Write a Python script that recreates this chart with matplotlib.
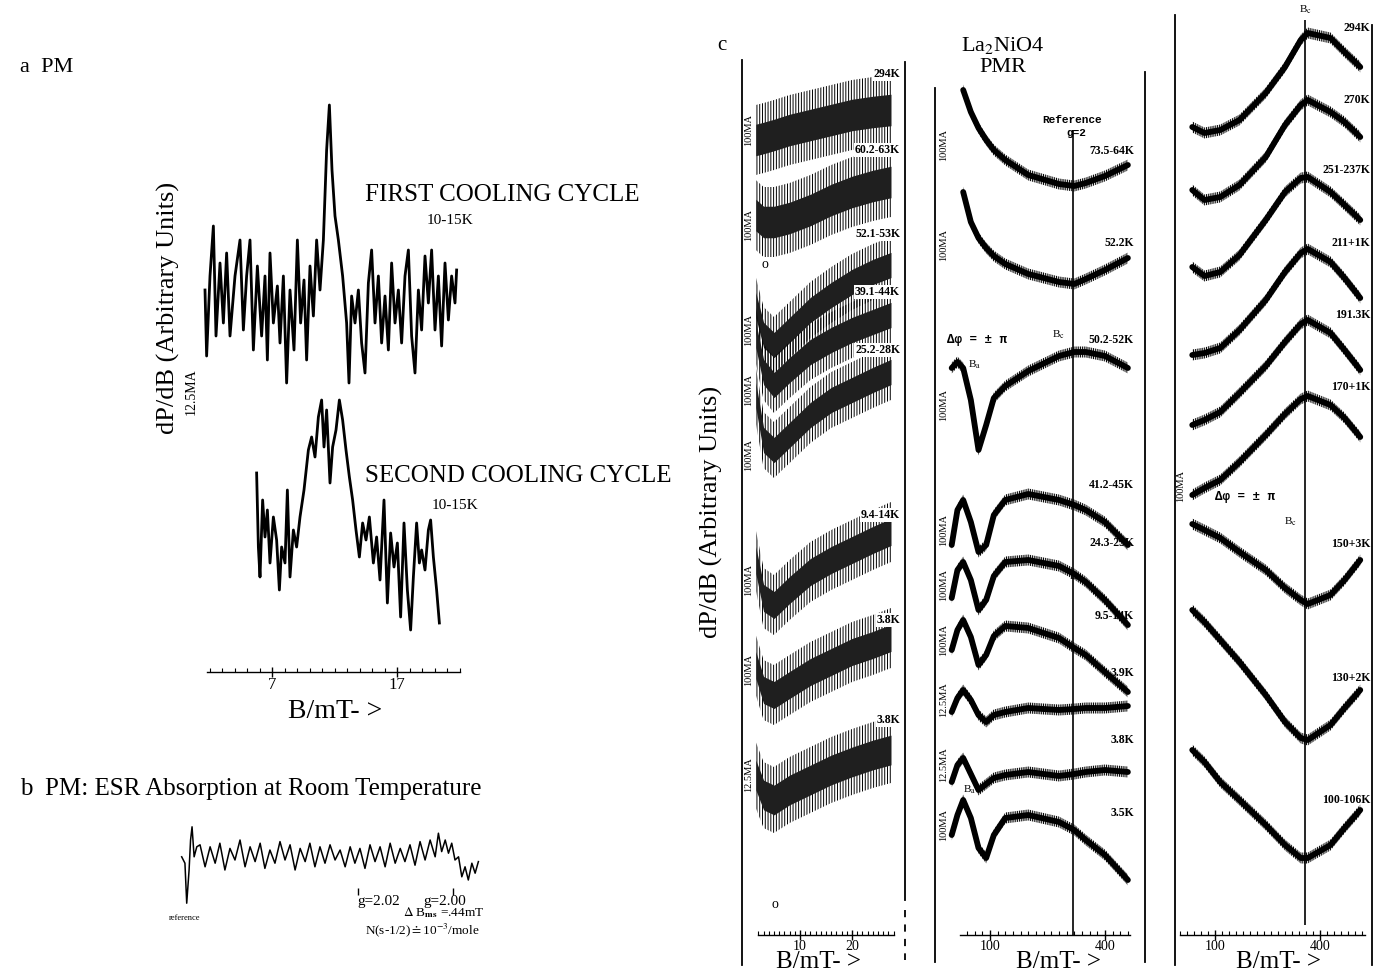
import matplotlib
matplotlib.use("Agg")
import matplotlib.pyplot as plt
import numpy as np
from matplotlib.lines import Line2D

plt.rcParams['font.family'] = ['Liberation Serif', 'DejaVu Serif']
plt.rcParams['mathtext.fontset'] = 'stix'
plt.rcParams['hatch.linewidth'] = 0.7
plt.rcParams['hatch.color'] = 'black'

W, H = 1378, 975

# ---------------- data ----------------
# panel a: B in mT, dP/dB in arbitrary units
a1_B = [1.64, 1.77, 2.04, 2.31, 2.52, 2.84, 3.11, 3.37, 3.64, 4.04,
        4.44, 4.71, 4.97, 5.24, 5.51, 5.83, 6.17, 6.44, 6.63, 6.84,
        7.11, 7.43, 7.64, 7.91, 8.17, 8.44, 8.76, 9.03, 9.29, 9.56,
        9.77, 10.04, 10.31, 10.57, 10.84, 11.11, 11.37, 11.59, 11.80, 12.04,
        12.31, 12.65, 12.97, 13.16, 13.37, 13.64, 13.91, 14.17, 14.44, 14.71,
        14.97, 15.24, 15.51, 15.77, 16.04, 16.31, 16.57, 16.84, 17.11, 17.37,
        17.64, 17.91, 18.17, 18.44, 18.71, 18.97, 19.24, 19.51, 19.77, 20.04,
        20.31, 20.57, 20.84, 21.11, 21.37, 21.64, 21.77]
a1_sig = [1.3, -5.3, 2.7, 7.7, -3.3, 4.0, -2.0, 5.0, -3.3, 2.7,
          6.3, -2.7, 2.7, 6.3, -4.7, 3.7, -3.3, 2.7, -5.7, 5.0,
          -2.0, 1.7, -4.0, 2.7, -8.0, 1.3, -4.7, 6.3, -2.0, 2.3,
          -5.7, 3.7, -1.3, 6.3, 1.3, 6.3, 15.3, 19.8, 13.3, 8.7,
          6.3, 2.7, -2.0, -8.0, 0.7, -2.0, 1.3, -4.0, -7.0, 2.0,
          5.3, -2.0, 2.7, -4.0, 0.7, -4.7, 4.0, -2.0, 1.3, -4.0,
          2.7, 5.3, -3.3, -7.0, 1.3, -2.7, 4.7, 0.0, 5.3, -2.7,
          2.7, -4.3, 4.0, -1.7, 2.7, 0.0, 3.3]
a2_B = [5.77, 5.91, 6.04, 6.25, 6.44, 6.63, 6.84, 7.11, 7.37, 7.59,
        7.77, 8.04, 8.23, 8.44, 8.71, 8.97, 9.24, 9.56, 9.91, 10.17,
        10.44, 10.71, 10.97, 11.16, 11.37, 11.64, 11.85, 12.12, 12.39, 12.65,
        12.92, 13.19, 13.45, 13.72, 13.99, 14.25, 14.52, 14.79, 15.11, 15.37,
        15.64, 15.96, 16.23, 16.49, 16.76, 17.03, 17.29, 17.56, 17.83, 18.09,
        18.31, 18.57, 18.79, 18.97, 19.24, 19.51, 19.69, 19.91, 20.17, 20.39]
a2_sig = [5.7, -1.7, -4.7, 3.0, -0.7, 2.0, -3.3, 1.3, -1.0, -6.0,
          -1.7, -3.3, 4.0, -4.7, 0.0, -1.7, 1.3, 4.0, 8.0, 9.3,
          7.3, 11.3, 13.0, 8.3, 12.0, 4.7, 8.3, 10.0, 13.0, 11.0,
          8.0, 5.3, 3.0, 0.0, -2.7, 0.7, -1.0, 1.3, -3.3, -0.7,
          -5.0, 3.0, -7.3, -0.3, -3.7, -1.3, -8.7, 0.7, -6.0, -10.0,
          -4.7, 0.7, -3.3, -2.0, -4.0, 0.0, 1.0, -2.7, -6.0, -9.3]
a_offsets = [0.0, -22.7]
a_titles = ['FIRST COOLING CYCLE', 'SECOND COOLING CYCLE']
a_temps = ['10-15K', '10-15K']

# panel b: field sweep (0 = reference line, 100 = end of sweep), absorption
b_field = [-0.1, 1.0, 1.6, 2.4, 2.9, 3.4, 4.1, 5.0, 6.1, 7.8,
           9.5, 11.2, 12.8, 14.5, 16.2, 17.9, 19.6, 21.3, 23.0, 24.7,
           26.4, 28.0, 29.7, 31.4, 33.1, 34.8, 36.5, 38.2, 39.9, 41.6,
           43.2, 44.9, 46.6, 48.3, 50.0, 51.7, 53.4, 55.1, 56.8, 58.4,
           60.1, 61.8, 63.5, 65.2, 66.9, 68.6, 70.3, 72.0, 73.7, 75.3,
           77.0, 78.7, 80.4, 82.1, 83.8, 85.5, 86.6, 87.7, 88.9, 90.0,
           91.1, 92.2, 93.4, 94.5, 95.6, 96.7, 97.9, 99.0, 100.1]
b_sig = [0.8, -0.8, -10.8, -2.5, 5.0, 8.3, 0.8, 3.3, 3.8, -1.7,
         3.3, -0.8, 4.2, -2.5, 2.9, 0.0, 5.0, -1.7, 3.3, -0.4,
         4.2, -2.1, 2.5, -0.8, 4.6, 0.0, 3.8, -2.5, 2.9, -0.4,
         4.2, -1.7, 3.3, -0.8, 3.8, 0.0, 2.5, -1.7, 3.3, -0.8,
         2.9, -2.1, 3.8, -0.4, 3.3, -1.7, 4.2, -0.8, 2.9, -0.4,
         3.8, -1.3, 4.6, 0.0, 5.0, 0.8, 6.7, 2.1, 5.0, 1.7,
         4.2, 0.0, 0.8, -4.2, -1.7, -5.0, -0.8, -3.3, -0.4]
b_g_marks = [59.5, 91.6]
b_g_labels = ['g=2.02', 'g=2.00']

# panel c, column 1 (0-28 mT): stacked traces, level of trace centre (arb. units)
c1_B = [1.5, 3, 5, 8, 12, 16, 20, 24, 27.5]
c1_traces = [
    [860, 862, 865, 870, 875, 880, 885, 888, 890],
    [785, 778, 778, 782, 790, 800, 808, 814, 818],
    [695, 665, 655, 670, 690, 705, 718, 728, 735],
    [665, 628, 615, 630, 648, 660, 670, 678, 685],
    [605, 560, 550, 565, 585, 600, 610, 620, 628],
    [440, 402, 395, 410, 428, 440, 450, 460, 468],
    [335, 310, 305, 315, 328, 338, 348, 355, 362],
    [225, 205, 200, 210, 220, 230, 238, 245, 250],
]
c1_noise = [35, 35, 28, 28, 28, 30, 30, 33]
c1_temps = ['294K', '60.2-63K', '52.1-53K', '39.1-44K', '25.2-28K', '9.4-14K', '3.8K', '3.8K']
c1_gain = ['100MA'] * 7 + ['12.5MA']

# column 2 (La2NiO4, 0-460 mT)
c2_B = [0, 15, 30, 50, 70, 90, 110, 140, 200, 280, 320, 350, 400, 460]
nan = np.nan
c2_traces = [
    [nan, nan, 910, 888, 872, 860, 850, 840, 825, 816, 814, 817, 824, 835],
    [nan, nan, 808, 778, 762, 752, 744, 736, 726, 718, 716, 721, 730, 742],
    [632, 638, 632, 600, 550, 575, 602, 614, 629, 644, 648, 648, 644, 632],
    [455, 490, 500, 478, 448, 455, 485, 500, 506, 500, 495, 490, 478, 455],
    [402, 430, 438, 420, 390, 400, 424, 438, 440, 434, 426, 418, 400, 375],
    [350, 370, 380, 363, 335, 345, 364, 374, 372, 362, 352, 345, 328, 308],
    [288, 302, 310, 300, 285, 278, 285, 288, 292, 290, 291, 292, 292, 294],
    [218, 235, 242, 226, 210, 216, 222, 225, 228, 224, 226, 228, 230, 228],
    [165, 185, 200, 182, 152, 142, 165, 182, 185, 178, 170, 160, 145, 120],
]
c2_temps = ['73.5-64K', '52.2K', '50.2-52K', '41.2-45K', '24.3-25K', '9.5-14K', '3.9K', '3.8K', '3.5K']
c2_gain = ['100MA'] * 6 + ['12.5MA', '12.5MA', '100MA']
c2_reference = 317

# column 3 (0-515 mT)
c3_B = [35, 70, 115, 170, 245, 300, 345, 365, 430, 470, 515]
c3_traces = [
    [873, 867, 870, 880, 907, 933, 960, 967, 962, 948, 933],
    [810, 800, 803, 815, 843, 875, 895, 900, 888, 878, 863],
    [733, 724, 728, 745, 780, 808, 822, 823, 808, 795, 780],
    [645, 647, 652, 670, 700, 728, 747, 751, 738, 722, 702],
    [575, 580, 588, 607, 634, 658, 676, 680, 667, 650, 630],
    [505, 512, 520, 538, 565, 586, 601, 604, 595, 582, 563],
    [476, 470, 462, 448, 430, 412, 400, 396, 405, 420, 440],
    [390, 378, 360, 338, 305, 278, 262, 260, 275, 292, 310],
    [250, 238, 218, 200, 175, 155, 142, 142, 155, 172, 190],
]
c3_temps = ['294K', '270K', '251-237K', '211+1K', '191.3K', '170+1K', '150+3K', '130+2K', '100-106K']
c3_Bc = 357

# ---------------- layout (pixel positions on the page) ----------------
c1_label_y = [74, 150, 234, 292, 350, 515, 620, 720]
c1_gain_y = [130, 225, 330, 390, 455, 580, 670, 775]
c2_label_y = [151, 243, 340, 485, 543, 616, 673, 740, 813]
c2_gain_y = [145, 245, 405, 530, 585, 640, 700, 765, 825]
c3_label_y = [28, 100, 170, 243, 315, 387, 544, 678, 800]

fig = plt.figure(figsize=(W / 100, H / 100), dpi=100)
fig.patch.set_facecolor('white')


def fx(px):
    return px / W


def fy(py):
    return 1 - py / H


def ftext(px, py, s, **kw):
    kw.setdefault('ha', 'center')
    kw.setdefault('va', 'center')
    fig.text(fx(px), fy(py), s, **kw)


def fline(px0, py0, px1, py1, lw=1.3, ls='-'):
    fig.add_artist(Line2D([fx(px0), fx(px1)], [fy(py0), fy(py1)],
                          color='black', lw=lw, ls=ls))


def panel_axes(x0, y0, x1, y1, xlim, ylim):
    ax = fig.add_axes([fx(x0), fy(y1), (x1 - x0) / W, (y1 - y0) / H])
    ax.set_xlim(*xlim)
    ax.set_ylim(*ylim)
    ax.patch.set_alpha(0)
    for s in ['top', 'right', 'left', 'bottom']:
        ax.spines[s].set_visible(False)
    ax.set_yticks([])
    ax.set_xticks([])
    return ax


def field_axis(ax, ypos, lo, hi, major, minor, size=12):
    sp = ax.spines['bottom']
    sp.set_visible(True)
    sp.set_position(('data', ypos))
    sp.set_bounds(lo, hi)
    sp.set_linewidth(1.0)
    ax.set_xticks(major)
    ax.set_xticks(minor, minor=True)
    ax.set_xticklabels([str(m) for m in major])
    ax.tick_params(axis='x', which='major', direction='inout', length=7,
                   width=1.0, labelsize=size, pad=0)
    ax.tick_params(axis='x', which='minor', direction='in', length=3, width=0.8)


def band(ax, x, y, core, fuzz):
    x = np.asarray(x, float)
    y = np.asarray(y, float)
    ax.fill_between(x, y - fuzz, y + fuzz, facecolor='none', edgecolor='black',
                    hatch='|||||||||', lw=0)
    ax.plot(x, y, color='black', lw=core, solid_joinstyle='round',
            solid_capstyle='round')


def klabel(px, py, s, boxed=False):
    kw = dict(ha='right', fontsize=8.5, fontweight='bold')
    if boxed:
        kw['bbox'] = dict(facecolor='white', edgecolor='none', pad=0.6)
    ftext(px, py, s, **kw)


# ---------------- panel a ----------------
ftext(20, 67, 'a  PM', ha='left', fontsize=16)
ax_a = panel_axes(150, 90, 480, 700, (-2.76, 23.64), (-39.7, 21.3))
for B, sig, off in zip([a1_B, a2_B], [a1_sig, a2_sig], a_offsets):
    ax_a.plot(B, np.array(sig) + off, color='black', lw=2.0)
field_axis(ax_a, -36.9, 1.8, 22, [7, 17], np.arange(2, 23, 1))
ftext(335, 712, 'B/mT- >', fontsize=20)
ftext(365, 195, a_titles[0], ha='left', fontsize=18)
ftext(450, 221, a_temps[0], fontsize=11)
ftext(365, 476, a_titles[1], ha='left', fontsize=18)
ftext(455, 505, a_temps[1], fontsize=11)
ftext(168, 308, 'dP/dB (Arbitrary Units)', rotation=90, fontsize=19)
ftext(191, 392, '12.5MA', rotation=90, fontsize=10)

# ---------------- panel b ----------------
ftext(20, 789, 'b  PM: ESR Absorption at Room Temperature', ha='left', fontsize=18)
ax_b = panel_axes(150, 815, 500, 945, (-10.8, 107.4), (-21.25, 11.25))
ax_b.plot(b_field, b_sig, color='black', lw=1.1)
ax_b.vlines(b_g_marks, -8.75, -7.0, color='black', lw=1.0)
ftext(357, 901, b_g_labels[0], ha='left', fontsize=11)
ftext(423, 901, b_g_labels[1], ha='left', fontsize=11)
ftext(185, 918, 'reference', fontsize=6)
ftext(403, 913, r'$\Delta$ B$_{\mathbf{ms}}$ =.44mT', ha='left', fontsize=9.5)
ftext(365, 930, r'N(s-1/2)$\doteq$10$^{-3}$/mole', ha='left', fontsize=9.5)

# ---------------- panel c ----------------
ftext(722, 45, 'c', fontsize=15)
ftext(1003, 45, r'La$_2$NiO4', fontsize=16)
ftext(1003, 68, 'PMR', fontsize=16)
ftext(711, 512, 'dP/dB (Arbitrary Units)', rotation=90, fontsize=19)

axis_y = 65
# column 1
ax1 = panel_axes(700, 0, 925, 975, (-9.23, 34.04), (25, 1000))
for tr, hw in zip(c1_traces, c1_noise):
    y = np.asarray(tr, float)
    ax1.fill_between(c1_B, y - hw, y + hw, facecolor='none', edgecolor='black',
                     hatch='||||||', lw=0)
    ax1.fill_between(c1_B, y - 0.45 * hw, y + 0.45 * hw, color='0.12', lw=0)
field_axis(ax1, axis_y, 2, 28, [10, 20], np.arange(2, 29, 1), size=10)
for s, py in zip(c1_temps, c1_label_y):
    klabel(900, py, s, boxed=True)
for s, py in zip(c1_gain, c1_gain_y):
    ftext(749, py, s, rotation=90, fontsize=7.5)
ftext(765, 265, 'o', fontsize=10)
ftext(775, 905, 'o', fontsize=10)
fline(742, 60, 742, 965)
fline(905, 62, 905, 900)
fline(905, 910, 905, 960, ls=(0, (4, 4)))
ftext(818, 962, 'B/mT- >', fontsize=18)

# column 2
ax2 = panel_axes(925, 0, 1165, 975, (-69.7, 556.9), (25, 1000))
for tr in c2_traces:
    band(ax2, c2_B, tr, 4.2, 5.5)
ax2.vlines(c2_reference, 65, 870, color='black', lw=1.2)
field_axis(ax2, axis_y, 22, 465, [100, 400], np.arange(40, 465, 20), size=10)
for s, py in zip(c2_temps, c2_label_y):
    klabel(1134, py, s)
for s, py in zip(c2_gain, c2_gain_y):
    ftext(944, py, s, rotation=90, fontsize=7.5)
mono = ['Liberation Mono', 'DejaVu Sans Mono']
ftext(1072, 120, 'Reference', family=mono, fontsize=8, fontweight='bold')
ftext(1076, 133, 'g=2', family=mono, fontsize=8, fontweight='bold')
ftext(947, 340, '\u0394\u03c6 = \u00b1 \u03c0', ha='left', family=mono, fontsize=9, fontweight='bold')
ftext(1058, 335, r'B$_\mathrm{c}$', fontsize=8)
ftext(975, 365, r'B$_\mathrm{a}$', fontsize=8)
ftext(1075, 577, r'B$_\mathrm{c}$', fontsize=8)
ftext(970, 790, r'B$_\mathrm{a}$', fontsize=8)
fline(935, 88, 935, 962)
fline(1145, 72, 1145, 962)
ftext(1058, 962, 'B/mT- >', fontsize=18)

# column 3
ax3 = panel_axes(1165, 0, 1378, 975, (-42.86, 565.7), (25, 1000))
for tr in c3_traces:
    band(ax3, c3_B, tr, 4.2, 5.5)
ax3.vlines(c3_Bc, 75, 980, color='black', lw=1.2)
field_axis(ax3, axis_y, 0, 528, [100, 400], np.arange(0, 529, 20), size=10)
for s, py in zip(c3_temps, c3_label_y):
    klabel(1370, py, s)
ftext(1305, 10, r'B$_\mathrm{c}$', fontsize=8)
ftext(1215, 497, '\u0394\u03c6 = \u00b1 \u03c0', ha='left', family=mono, fontsize=9, fontweight='bold')
ftext(1290, 522, r'B$_\mathrm{c}$', fontsize=8)
ftext(1181, 486, '100MA', rotation=90, fontsize=7.5)
fline(1175, 15, 1175, 965)
fline(1372, 25, 1372, 965)
ftext(1278, 962, 'B/mT- >', fontsize=18)

fig.savefig('out.png', dpi=100, facecolor='white')
